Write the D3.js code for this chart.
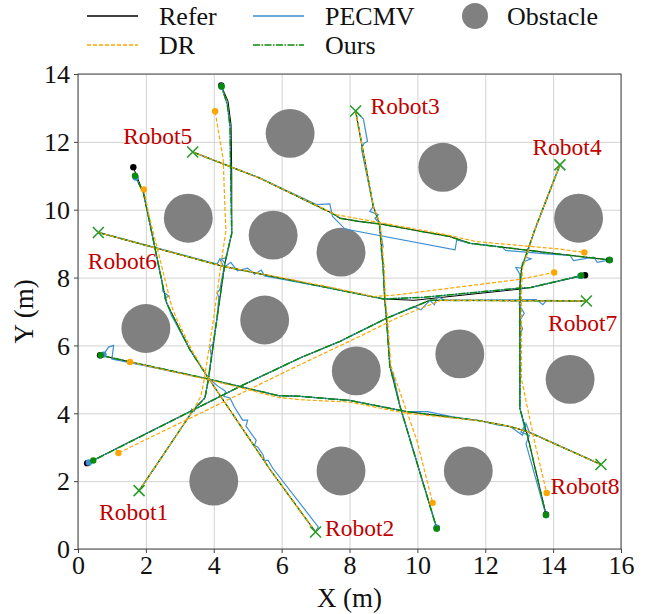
<!DOCTYPE html>
<meta charset="utf-8">
<body style="margin:0;background:#fff">
<div id="chart"></div>
<script src="https://d3js.org/d3.v7.min.js"></script>
<script>
// obstacle centres (m)
const obstacles = [[2,6.5],[5.5,6.75],[4,2],[7.75,2.3],[8.2,5.25],[11.25,5.75],[14.5,5.0],[11.5,2.3],
                   [3.25,9.75],[5.75,9.25],[7.75,8.75],[6.25,12.25],[10.75,11.25],[14.75,9.75]];
const obstacleR = 0.72;

const robots = ["Robot1","Robot2","Robot3","Robot4","Robot5","Robot6","Robot7","Robot8"];
const labelPos = [[0.62,0.86],[7.28,0.39],[8.62,12.83],[13.39,11.62],[1.33,11.94],[0.29,8.26],[13.85,6.43],[13.92,1.63]];

const ours = [
  [[1.8,1.72],[2.22,2.34],[3.4,4.1],[3.74,4.45],[3.84,4.99],[4.09,6.76],[4.33,8.43],[4.53,9.3],[4.5,11.0],[4.48,12.45],[4.4,13.1],[4.23,13.63]],
  [[7.0,0.5],[5.66,2.34],[3.84,5.04],[3.3,5.87],[2.61,7.25],[2.49,7.8],[2.2,9.2],[1.93,10.49],[1.68,11.0]],
  [[8.18,12.91],[8.7,10.1],[8.88,9.6],[8.99,8.33],[9.04,7.35],[9.09,6.8],[9.19,5.38],[9.49,4.2],[10.57,0.6]],
  [[14.2,11.32],[13.46,9.41],[13.07,8.28],[13.02,7.7],[13.02,5.58],[13.02,4.15],[13.25,3.32],[13.79,1.0]],
  [[3.38,11.7],[5.36,10.93],[7.52,9.88],[7.72,9.75],[8.31,9.65],[8.9,9.58],[10.96,9.21],[11.55,9.01],[14.2,8.69],[15.67,8.52]],
  [[0.6,9.33],[4.28,8.33],[7.42,7.69],[9.0,7.37],[10.2,7.42],[13.02,7.69],[13.35,7.71],[14.83,8.06]],
  [[14.98,7.31],[10.37,7.33],[9.09,6.8],[7.72,6.12],[6.54,5.63],[4.77,4.79],[0.45,2.61]],
  [[15.41,2.49],[13.22,3.47],[12.73,3.61],[11.84,3.78],[9.68,4.05],[8.0,4.38],[6.54,4.5],[5.9,4.52],[3.84,5.01],[0.67,5.71]]
];

const refer = [
  [[1.8,1.72],[2.22,2.34],[3.4,4.1],[3.74,4.45],[3.84,4.99],[4.09,6.76],[4.33,8.43],[4.53,9.3],[4.53,11.0],[4.51,12.5],[4.42,13.2],[4.22,13.66]],
  [[7.0,0.5],[5.66,2.34],[3.84,5.04],[3.3,5.87],[2.61,7.25],[2.49,7.8],[2.2,9.2],[1.93,10.49],[1.63,11.25]],
  [[8.18,12.91],[8.7,10.1],[8.88,9.6],[8.99,8.33],[9.04,7.35],[9.09,6.8],[9.19,5.38],[9.49,4.2],[10.57,0.62]],
  [[14.2,11.32],[13.46,9.41],[13.07,8.28],[13.02,7.7],[13.02,5.58],[13.02,4.15],[13.25,3.32],[13.79,1.02]],
  [[3.38,11.7],[5.36,10.93],[7.52,9.88],[7.72,9.75],[8.31,9.65],[8.9,9.58],[10.96,9.21],[11.55,9.01],[14.2,8.69],[15.65,8.52]],
  [[0.6,9.33],[4.28,8.33],[7.42,7.69],[9.0,7.37],[9.9,7.33],[13.02,7.66],[13.35,7.71],[14.94,8.07]],
  [[14.98,7.31],[10.37,7.33],[9.09,6.8],[7.72,6.12],[6.54,5.63],[4.77,4.79],[0.27,2.53]],
  [[15.41,2.49],[13.22,3.47],[12.73,3.61],[11.84,3.78],[9.68,4.05],[8.0,4.38],[6.54,4.5],[5.9,4.52],[3.84,5.01],[0.65,5.71]]
];

const dr = [
  [[1.8,1.72],[2.22,2.34],[3.4,4.1],[3.62,4.5],[3.72,5.0],[3.99,6.76],[4.22,8.43],[4.36,9.4],[4.33,10.0],[4.28,11.47],[4.04,12.9]],
  [[7.0,0.5],[5.66,2.34],[3.84,5.04],[3.35,5.87],[2.9,6.8],[2.76,7.15],[2.42,8.52],[2.1,9.8],[1.94,10.6]],
  [[8.18,12.91],[8.7,10.1],[8.9,9.6],[9.02,8.33],[9.06,7.35],[9.12,6.8],[9.22,5.4],[9.6,4.3],[9.98,3.22],[10.45,1.36]],
  [[14.2,11.32],[13.46,9.41],[13.1,8.28],[13.07,7.7],[13.07,5.0],[13.44,3.22],[13.81,1.65]],
  [[3.38,11.7],[5.36,10.93],[7.5,9.9],[7.62,9.85],[8.9,9.62],[10.86,9.26],[11.74,9.06],[14.2,8.84],[14.92,8.74]],
  [[0.6,9.33],[4.28,8.33],[7.42,7.72],[8.7,7.44],[9.39,7.49],[13.02,7.95],[14.03,8.15]],
  [[14.98,7.31],[10.7,7.33],[9.38,6.8],[8.31,6.27],[6.54,5.43],[1.19,2.83]],
  [[15.41,2.49],[13.22,3.47],[12.73,3.61],[11.84,3.78],[9.68,4.0],[8.0,4.33],[6.54,4.4],[5.9,4.47],[3.84,4.99],[1.53,5.51]]
];

const pecmv = [
  [[1.8,1.72],[2.22,2.34],[3.3,3.95],[3.35,4.12],[3.42,4.05],[3.5,4.22],[3.74,4.45],[3.84,4.99],[3.93,5.7],[3.88,5.95],[3.98,6.05],[4.09,6.76],[4.15,7.4],[4.1,7.55],[4.18,7.65],[4.33,8.43],[4.22,8.55],[4.36,8.58],[4.53,9.3],[4.5,11.0],[4.48,12.45],[4.4,13.1],[4.23,13.63]],
  [[7.02,0.55],[7.08,0.65],[5.74,2.38],[5.6,2.62],[5.5,2.6],[5.45,2.78],[5.3,3.0],[5.2,3.05],[5.25,3.2],[4.95,3.62],[5.0,3.8],[4.85,3.8],[4.6,4.2],[4.48,4.45],[4.3,4.5],[4.35,4.65],[4.12,4.8],[3.84,5.04],[3.3,5.87],[2.75,6.9],[2.62,7.25],[2.55,7.4],[2.68,7.45],[2.5,7.6],[2.49,7.8],[2.2,9.2],[1.93,10.49],[1.7,10.95]],
  [[8.18,12.91],[8.41,12.67],[8.53,12.01],[8.43,11.96],[8.35,11.8],[8.7,10.1],[8.6,9.95],[8.85,9.85],[8.75,9.75],[8.88,9.6],[8.99,8.9],[8.93,8.85],[8.99,8.33],[9.04,7.35],[9.09,6.8],[9.19,5.38],[9.3,5.1],[9.49,4.2],[10.57,0.62]],
  [[14.2,11.32],[13.46,9.41],[13.2,8.6],[13.35,8.55],[13.1,8.45],[13.07,8.28],[12.9,8.3],[13.02,8.1],[13.02,7.7],[13.0,7.2],[13.15,6.95],[13.0,6.7],[13.1,6.5],[13.02,6.3],[13.02,5.58],[13.02,4.15],[13.15,3.6],[13.05,3.45],[13.3,3.35],[13.2,3.1],[13.79,1.0]],
  [[3.38,11.7],[5.36,10.93],[7.03,10.15],[7.42,10.17],[7.5,9.8],[7.87,9.43],[11.11,8.82],[11.16,9.11],[11.55,9.01],[12.5,8.9],[12.6,8.8],[13.8,8.7],[14.5,8.65],[14.6,8.5],[15.2,8.6],[15.3,8.45],[15.67,8.52]],
  [[0.6,9.33],[4.1,8.4],[4.18,8.55],[4.3,8.3],[4.5,8.45],[4.7,8.2],[5.0,8.28],[5.2,8.1],[5.4,8.22],[5.5,8.05],[7.42,7.69],[9.0,7.37],[10.2,7.42],[13.02,7.69],[13.35,7.71],[14.8,8.05]],
  [[14.98,7.31],[13.8,7.33],[13.7,7.2],[13.5,7.35],[10.8,7.33],[10.6,7.45],[10.5,7.2],[10.37,7.33],[10.1,7.05],[9.9,7.15],[9.09,6.8],[7.72,6.12],[6.54,5.63],[4.77,4.79],[0.32,2.55]],
  [[15.41,2.49],[13.3,3.45],[13.2,3.7],[13.1,3.35],[12.73,3.61],[12.4,3.65],[11.84,3.78],[11.0,3.9],[10.3,4.05],[9.68,4.05],[8.0,4.38],[6.54,4.5],[5.9,4.52],[3.84,5.01],[1.0,5.6],[1.05,6.0],[0.9,5.95],[0.75,5.73]]
];

const xTicks = d3.range(0, 17, 2);
const yTicks = d3.range(0, 15, 2);

const width = 651, height = 614;
const margin = {top: 74, right: 30, bottom: 65, left: 78};
const font = "'Liberation Serif','Times New Roman',serif";
const cRefer = "#000", cDR = "#ffa500", cPE = "#3d8fd1", cOurs = "#0a8a0a";

const svg = d3.select("#chart").append("svg")
    .attr("width", width).attr("height", height)
    .style("font-family", font);

const x = d3.scaleLinear().domain([0,16]).range([margin.left, width - margin.right]);
const y = d3.scaleLinear().domain([0,14]).range([height - margin.bottom, margin.top]);

// grid
svg.append("g").attr("transform", `translate(0,${y(0)})`)
    .call(d3.axisBottom(x).tickValues(xTicks).tickSize(-(y(0)-y(14))).tickFormat(""))
    .call(g => g.select(".domain").remove())
    .selectAll("line").attr("stroke", "#d3d3d3").attr("stroke-width", 1);
svg.append("g").attr("transform", `translate(${x(0)},0)`)
    .call(d3.axisLeft(y).tickValues(yTicks).tickSize(-(x(16)-x(0))).tickFormat(""))
    .call(g => g.select(".domain").remove())
    .selectAll("line").attr("stroke", "#d3d3d3").attr("stroke-width", 1);

// obstacles
svg.append("g").selectAll("circle").data(obstacles).join("circle")
    .attr("cx", d => x(d[0])).attr("cy", d => y(d[1]))
    .attr("r", x(obstacleR) - x(0))
    .attr("fill", "#808080");

const line = d3.line().x(d => x(d[0])).y(d => y(d[1]));
const plot = svg.append("g");

plot.selectAll(".refer").data(refer).join("path")
    .attr("d", line).attr("fill", "none").attr("stroke", cRefer).attr("stroke-width", 1);
plot.selectAll(".pe").data(pecmv).join("path")
    .attr("d", line).attr("fill", "none").attr("stroke", cPE).attr("stroke-width", 1.2);
plot.selectAll(".ours").data(ours).join("path")
    .attr("d", line).attr("fill", "none").attr("stroke", cOurs).attr("stroke-width", 1.5)
    .attr("stroke-dasharray", "7,1.5,1.5,1.5");
plot.selectAll(".dr").data(dr).join("path")
    .attr("d", line).attr("fill", "none").attr("stroke", cDR).attr("stroke-width", 1.2)
    .attr("stroke-dasharray", "4,2");

// end points
const ends = [[refer, cRefer], [pecmv, cPE], [dr, cDR], [ours, cOurs]];
ends.forEach(([set, c]) => {
  plot.append("g").selectAll("circle").data(set).join("circle")
      .attr("cx", d => x(d[d.length-1][0])).attr("cy", d => y(d[d.length-1][1]))
      .attr("r", 3.2).attr("fill", c);
});

// start markers
const s = 5.5;
plot.append("g").selectAll("path").data(ours).join("path")
    .attr("d", d => {
      const px = x(d[0][0]), py = y(d[0][1]);
      return `M${px-s},${py-s}L${px+s},${py+s}M${px-s},${py+s}L${px+s},${py-s}`;
    })
    .attr("stroke", "#2a9a2a").attr("stroke-width", 1.6).attr("fill", "none");

// robot labels
svg.append("g").selectAll("text").data(robots).join("text")
    .attr("x", (d,i) => x(labelPos[i][0])).attr("y", (d,i) => y(labelPos[i][1]))
    .attr("fill", "#c00000").style("font-size", "23.5px").text(d => d);

// frame + axes
svg.append("rect").attr("x", x(0)).attr("y", y(14))
    .attr("width", x(16)-x(0)).attr("height", y(0)-y(14))
    .attr("fill", "none").attr("stroke", "#444").attr("stroke-width", 1);

const xAxis = svg.append("g").attr("transform", `translate(0,${y(0)})`)
    .call(d3.axisBottom(x).tickValues(xTicks).tickSize(4).tickPadding(3));
const yAxis = svg.append("g").attr("transform", `translate(${x(0)},0)`)
    .call(d3.axisLeft(y).tickValues(yTicks).tickSize(4).tickPadding(4));
[xAxis, yAxis].forEach(a => {
  a.attr("font-family", null).attr("font-size", null);
  a.select(".domain").remove();
  a.selectAll("line").attr("stroke", "#444");
  a.selectAll("text").style("font-family", font).style("font-size", "26px").attr("fill", "#111");
});
yAxis.selectAll("text").attr("dy", "0.34em");

svg.append("text").attr("x", (x(0)+x(16))/2).attr("y", 607)
    .attr("text-anchor", "middle").style("font-size", "27px").attr("fill", "#111").text("X (m)");
svg.append("text").attr("transform", `translate(33,${(y(0)+y(14))/2}) rotate(-90)`)
    .attr("text-anchor", "middle").style("font-size", "27px").attr("fill", "#111").text("Y (m)");

// legend
const legend = [
  {name: "Refer", col: 0, row: 0, c: cRefer, dash: null},
  {name: "DR", col: 0, row: 1, c: cDR, dash: "4,2"},
  {name: "PECMV", col: 1, row: 0, c: cPE, dash: null},
  {name: "Ours", col: 1, row: 1, c: cOurs, dash: "7,1.5,1.5,1.5"}
];
const lg = svg.append("g");
legend.forEach(d => {
  const lx = 87 + d.col * 166, ly = 16 + d.row * 29;
  lg.append("line").attr("x1", lx).attr("x2", lx + 51).attr("y1", ly).attr("y2", ly)
    .attr("stroke", d.c).attr("stroke-width", 1.5).attr("stroke-dasharray", d.dash);
  lg.append("text").attr("x", lx + 72).attr("y", ly + 8.5).style("font-size", "26px")
    .attr("fill", "#111").text(d.name);
});
lg.append("circle").attr("cx", 475).attr("cy", 16).attr("r", 13).attr("fill", "#808080");
lg.append("text").attr("x", 507).attr("y", 24.5).style("font-size", "26px").attr("fill", "#111").text("Obstacle");
</script>
</body>
